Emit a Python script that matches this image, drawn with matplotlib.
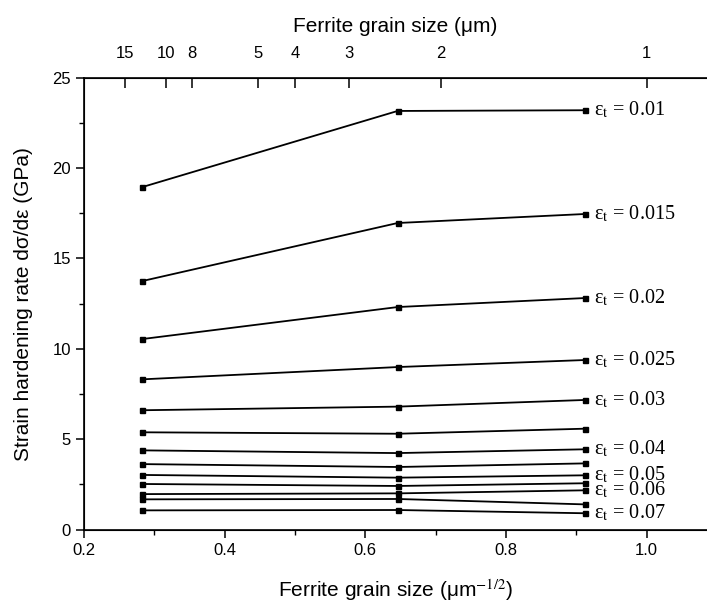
"""
Strain hardening rate vs ferrite grain size (d^-1/2), one line per true strain.
Top axis shows the matching grain size in um.
"""
import numpy as np
import matplotlib
matplotlib.use("Agg")
import matplotlib.pyplot as plt

plt.rcParams["font.family"] = ["Liberation Sans", "DejaVu Sans"]
plt.rcParams["mathtext.fontset"] = "stix"

# grain size d^-1/2 (um^-1/2) of the three steels
grain_x = [0.283, 0.646, 0.913]

# true strain of each curve and its hardening rate (GPa) at the three grain sizes
strains = ["0.01", "0.015", "0.02", "0.025", "0.03", "0.035", "0.04",
           "0.045", "0.05", "0.055", "0.06", "0.065", "0.07"]
rate_01 = [18.95, 23.16, 23.20]
rate_015 = [13.75, 16.96, 17.46]
rate_02 = [10.54, 12.31, 12.81]
rate_025 = [8.31, 8.99, 9.38]
rate_03 = [6.60, 6.80, 7.17]
rate_035 = [5.38, 5.30, 5.58]
rate_04 = [4.38, 4.23, 4.44]
rate_045 = [3.62, 3.46, 3.66]
rate_05 = [3.02, 2.87, 3.00]
rate_055 = [2.52, 2.41, 2.56]
rate_06 = [1.96, 2.00, 2.17]
rate_065 = [1.67, 1.69, 1.39]
rate_07 = [1.06, 1.08, 0.90]
rates = [rate_01, rate_015, rate_02, rate_025, rate_03, rate_035, rate_04,
         rate_045, rate_05, rate_055, rate_06, rate_065, rate_07]

# only these curves get a label at the right end
labelled = ["0.01", "0.015", "0.02", "0.025", "0.03", "0.04", "0.05", "0.06", "0.07"]

# top axis: grain size in um
top_ticks_um = [15, 10, 8, 5, 4, 3, 2, 1]


def main():
    fig = plt.figure(figsize=(7.07, 6.09), dpi=100)
    ax = fig.add_axes([0.1188, 0.1305, 0.8812, 0.7419])

    for eps, y in zip(strains, rates):
        ax.plot(grain_x, y, color="black", lw=1.3, marker="s", ms=3.6)
        if eps in labelled:
            ax.text(grain_x[-1] + 0.012, y[-1], "ε$_{\\rm t}$ = " + eps,
                    family=["Liberation Serif", "DejaVu Serif"], fontsize=14.5,
                    va="center", ha="left")

    ax.set_xlim(0.2, 1.086)
    ax.set_ylim(0, 25)
    ax.set_xticks([0.2, 0.4, 0.6, 0.8, 1.0])
    ax.set_xticks([0.3, 0.5, 0.7, 0.9], minor=True)
    ax.set_xticklabels(["0.2", "0.4", "0.6", "0.8", "1.0"])
    ax.set_yticks([0, 5, 10, 15, 20, 25])
    ax.set_yticks([2.5, 7.5, 12.5, 17.5, 22.5], minor=True)
    ax.tick_params(which="major", direction="out", length=6, width=1.1, labelsize=12)
    ax.tick_params(which="minor", direction="out", length=3.5, width=1.0)
    ax.tick_params(top=False, right=False)
    ax.spines["right"].set_visible(False)
    for s in ("left", "bottom", "top"):
        ax.spines[s].set_linewidth(1.2)

    ax.set_xlabel("Ferrite grain size (μm$^{-1/2}$)", fontsize=15, labelpad=14)
    ax.set_ylabel("Strain hardening rate dσ/dε (GPa)", fontsize=15, labelpad=14)

    top = ax.twiny()
    top.set_xlim(ax.get_xlim())
    top.set_xticks([1 / np.sqrt(d) for d in top_ticks_um])
    top.set_xticklabels([str(d) for d in top_ticks_um])
    top.tick_params(direction="in", length=7, width=1.1, labelsize=12, pad=12)
    top.spines["right"].set_visible(False)
    top.set_xlabel("Ferrite grain size (μm)", fontsize=15, labelpad=10)

    fig.savefig("out.png", dpi=100)


if __name__ == "__main__":
    main()
